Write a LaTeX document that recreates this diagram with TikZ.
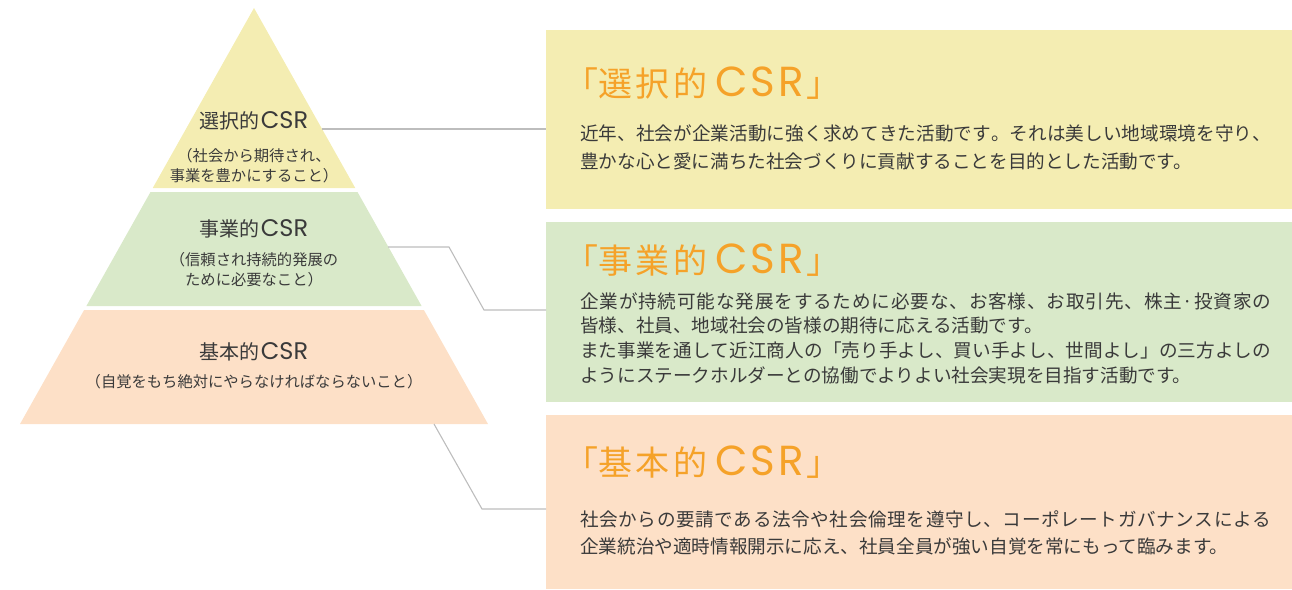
\documentclass[tikz,border=0pt]{standalone}
\usepackage{fontspec}
\setmainfont{Noto Sans CJK JP}
\newfontfamily\lat{Poppins}
\definecolor{yel}{HTML}{F4EDB2}
\definecolor{grn}{HTML}{D9E9C9}
\definecolor{pch}{HTML}{FDE0C7}
\definecolor{orng}{HTML}{F5A229}
\definecolor{txt}{HTML}{3A3A3A}
\definecolor{lgray}{HTML}{BDBDBD}
% justified line: spread characters over the full width
\def\jl#1{\makebox[691pt][s]{\jlA#1\relax}}
\def\jlA#1{#1\jlB}
\def\jlB#1{\ifx\relax#1\else\hfil#1\expandafter\jlB\fi}
% titles
\newcommand{\btitle}[1]{「#1\kern8pt{\lat\fontsize{42}{44}\selectfont C\kern3pt S\kern3pt R}\kern3pt 」}
\newcommand{\ptitletext}[1]{#1\kern1pt{\lat\fontsize{24}{26}\selectfont CSR}}
\begin{document}
\begin{tikzpicture}[x=1pt,y=-1pt,
  boxnode/.style={draw=none, anchor=north west, inner sep=0, minimum width=746pt},
  ttl/.style={anchor=west, inner sep=0, text=orng, font=\fontsize{34}{38}\selectfont, text height=29.9pt, text depth=4.1pt},
  body/.style={anchor=west, inner sep=0, text=txt, font=\fontsize{18.6}{22}\selectfont, text height=16.4pt, text depth=2.2pt},
  ptitle/.style={inner sep=0, text=txt, font=\fontsize{20}{24}\selectfont, text height=17.6pt, text depth=2.4pt},
  psub/.style={inner sep=0, text=txt, font=\fontsize{15.3}{18}\selectfont, text height=13.5pt, text depth=1.8pt},
  conn/.style={draw=lgray, line width=1.1pt}]
\useasboundingbox (0,0) rectangle (1292,589);
% pyramid
\fill[yel] (254,8) -- (355.25,188) -- (152.75,188) -- cycle;
\fill[grn] (150.5,192) -- (357.5,192) -- (421.6,306) -- (86.4,306) -- cycle;
\fill[pch] (84.1,310) -- (423.9,310) -- (488,424) -- (20,424) -- cycle;
\node[ptitle] (t1) at (254,121) {\ptitletext{選択的}};
\node[psub] (s1a) at (254,156) {（社会から期待され、};
\node[psub] (s1b) at (254,176) {事業を豊かにすること）};
\node[ptitle] (t2) at (254,229) {\ptitletext{事業的}};
\node[psub] (s2a) at (254,260) {（信頼され持続的発展の};
\node[psub] (s2b) at (254,280) {ために必要なこと）};
\node[ptitle] (t3) at (254,352) {\ptitletext{基本的}};
\node[psub] (s3a) at (254,382) {（自覚をもち絶対にやらなければならないこと）};
% boxes
\node[boxnode, fill=yel, minimum height=179pt] (box1) at (546,30) {};
\node[boxnode, fill=grn, minimum height=180pt] (box2) at (546,222) {};
\node[boxnode, fill=pch, minimum height=174pt] (box3) at (546,415) {};
% connectors
\coordinate (p1) at (322,129);
\draw[conn] (p1) -- (p1 -| box1.west);
\coordinate (p2) at (388,247);
\coordinate (k2a) at (449,247);
\coordinate (k2b) at (484,310);
\draw[conn] (p2) -- (k2a) -- (k2b) -- (k2b -| box2.west);
\coordinate (p3) at (434,424);
\coordinate (k3) at (482,509);
\draw[conn] (p3) -- (k3) -- (k3 -| box3.west);
% box texts
\node[ttl] (h1) at (564,84) {\btitle{選\kern3.5pt 択\kern3.5pt 的}};
\node[body] (b1a) at (580,133) {\jl{近年、社会が企業活動に強く求めてきた活動です。それは美しい地域環境を守り、}};
\node[body] (b1b) at (580,161) {豊かな心と愛に満ちた社会づくりに貢献することを目的とした活動です。};
\node[ttl] (h2) at (564,261) {\btitle{事\kern3.5pt 業\kern3.5pt 的}};
\node[body] (b2a) at (580,301) {\jl{企業が持続可能な発展をするために必要な、お客様、お取引先、株主·投資家の}};
\node[body] (b2b) at (580,325.7) {皆様、社員、地域社会の皆様の期待に応える活動です。};
\node[body] (b2c) at (580,350.4) {\jl{また事業を通して近江商人の「売り手よし、買い手よし、世間よし」の三方よしの}};
\node[body] (b2d) at (580,375) {ようにステークホルダーとの協働でよりよい社会実現を目指す活動です。};
\node[ttl] (h3) at (564,463) {\btitle{基\kern3.5pt 本\kern3.5pt 的}};
\node[body] (b3a) at (580,519) {\jl{社会からの要請である法令や社会倫理を遵守し、コーポレートガバナンスによる}};
\node[body] (b3b) at (580,546) {企業統治や適時情報開示に応え、社員全員が強い自覚を常にもって臨みます。};
\end{tikzpicture}
\end{document}
